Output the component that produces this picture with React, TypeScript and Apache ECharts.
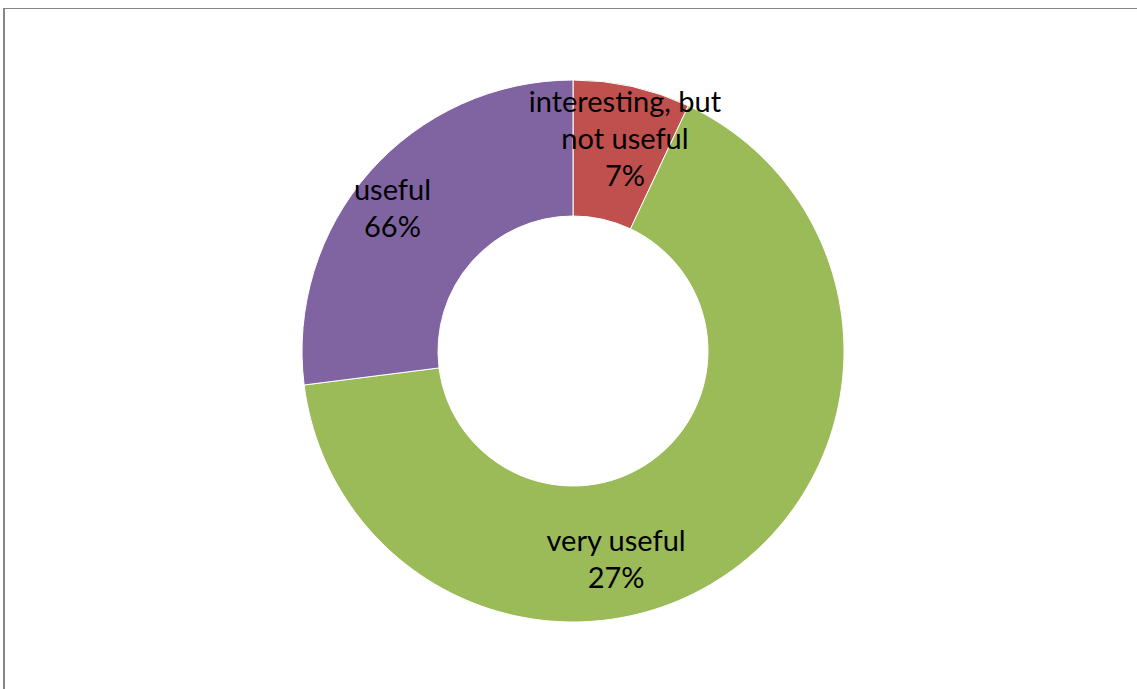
import React, { useEffect, useRef } from "react";
import * as echarts from "echarts";

// Slices, in clockwise order from 12 o'clock
const sliceNames = ["interesting, but not useful", "very useful", "useful"];
const sliceValues = [7, 66, 27];
const sliceColors = ["#C0504D", "#9BBB59", "#8064A2"];

// Label texts as printed on each slice in the reference
const labelCategories = ["interesting, but\nnot useful", "very useful", "useful"];
const labelPercents = ["7%", "27%", "66%"];

// Style-only label nudges (px) relative to ECharts' inside position
const LABEL_SHIFT: [number, number][] = [
  [7, -12],
  [-78, 40],
  [-26, -8],
];

export default function App() {
  const ref = useRef<HTMLDivElement>(null);

  useEffect(() => {
    if (!ref.current) return;
    const chart = echarts.init(ref.current, undefined, { renderer: "svg" });
    chart.setOption({
      animation: false,
      backgroundColor: "transparent",
      series: [
        {
          type: "pie",
          center: [573, 351],
          radius: [135, 271],
          startAngle: 90,
          clockwise: true,
          silent: true,
          avoidLabelOverlap: false,
          emphasis: { disabled: true },
          itemStyle: { borderColor: "#ffffff", borderWidth: 1 },
          label: {
            show: true,
            position: "inside",
            color: "#000000",
            fontFamily: "Lato",
            fontSize: 29,
            lineHeight: 37,
            align: "center",
            formatter: (p: any) =>
              `${labelCategories[p.dataIndex]}\n${labelPercents[p.dataIndex]}`,
          },
          labelLine: { show: false },
          labelLayout: (p: any) => ({
            dx: LABEL_SHIFT[p.dataIndex][0],
            dy: LABEL_SHIFT[p.dataIndex][1],
          }),
          data: sliceNames.map((name, i) => ({
            name,
            value: sliceValues[i],
            itemStyle: { color: sliceColors[i] },
          })),
        },
      ],
    });
    return () => chart.dispose();
  }, []);

  return (
    <div
      style={{
        position: "fixed",
        left: 0,
        top: 0,
        width: 1137,
        height: 689,
        overflow: "hidden",
        background: "#ffffff",
      }}
    >
      <div
        style={{
          position: "absolute",
          left: 3,
          top: 8,
          width: 2000,
          height: 2000,
          borderLeft: "2px solid #868686",
          borderTop: "1px solid #868686",
        }}
      />
      <div
        ref={ref}
        style={{ position: "absolute", left: 0, top: 0, width: 1137, height: 689 }}
      />
    </div>
  );
}
